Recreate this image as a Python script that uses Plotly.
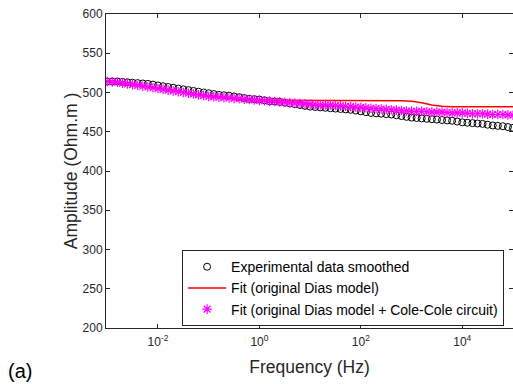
import numpy as np
import plotly.graph_objects as go

# log10 frequency grid (0.2 decade steps) for the red fit line
log_freq = [-3.0, -2.8, -2.6, -2.4, -2.2, -2.0, -1.8, -1.6, -1.4, -1.2, -1.0,
            -0.8, -0.6, -0.4, -0.2, 0.0, 0.2, 0.4, 0.6, 0.8, 1.0,
            1.2, 1.4, 1.6, 1.8, 2.0, 2.2, 2.4, 2.6, 2.8, 3.0,
            3.2, 3.4, 3.6, 3.8, 4.0, 4.2, 4.4, 4.6, 4.8, 5.0]
freq = [10 ** v for v in log_freq]

fit_dias = [514, 513, 511, 509, 507, 505, 503, 501, 499, 497, 495,
            494, 493, 492, 491, 490, 490, 490, 490, 490, 490,
            490, 490, 490, 490, 490, 490, 490, 490, 489.5, 489,
            487, 484, 482.5, 482, 482, 482, 482, 482, 482, 482]

# marker sampling (every 0.1 decade)
log_freq_dense = [-3.0, -2.9, -2.8, -2.7, -2.6, -2.5, -2.4, -2.3, -2.2, -2.1, -2.0,
                  -1.9, -1.8, -1.7, -1.6, -1.5, -1.4, -1.3, -1.2, -1.1, -1.0,
                  -0.9, -0.8, -0.7, -0.6, -0.5, -0.4, -0.3, -0.2, -0.1, 0.0,
                  0.1, 0.2, 0.3, 0.4, 0.5, 0.6, 0.7, 0.8, 0.9, 1.0,
                  1.1, 1.2, 1.3, 1.4, 1.5, 1.6, 1.7, 1.8, 1.9, 2.0,
                  2.1, 2.2, 2.3, 2.4, 2.5, 2.6, 2.7, 2.8, 2.9, 3.0,
                  3.1, 3.2, 3.3, 3.4, 3.5, 3.6, 3.7, 3.8, 3.9, 4.0,
                  4.1, 4.2, 4.3, 4.4, 4.5, 4.6, 4.7, 4.8, 4.9, 5.0]
freq_dense = [10 ** v for v in log_freq_dense]

experimental = [514, 514, 514, 513.5, 513, 512.5, 512, 511.5, 511, 510, 509,
                508, 507, 506, 505, 504, 503, 502, 501, 500, 499,
                498, 497, 496.5, 496, 495, 494, 493, 492, 491.5, 491,
                490, 489, 488.5, 488, 487, 486, 485, 484, 483, 482,
                481.5, 481, 480.5, 480, 479.5, 479, 478.5, 478, 477, 476,
                475, 474, 473.5, 473, 472.5, 472, 471, 470, 469, 468,
                467.5, 467, 466.5, 466, 465.5, 465, 464.5, 464, 463, 462,
                461.5, 461, 460.5, 460, 459, 458, 457.5, 457, 456, 455]

fit_cole = [514, 513.5, 513, 512, 511, 510, 509, 508, 507, 506, 505,
            504, 503, 502, 501, 500, 499, 498, 497, 496, 495,
            494.5, 494, 493.5, 493, 492.5, 492, 491.5, 491, 490.5, 490,
            489.5, 489, 488.5, 488, 487.5, 487, 486.5, 486, 485.5, 485,
            484.5, 484, 484, 484, 483.5, 483, 482.5, 482, 481.5, 481,
            480.5, 480, 479.5, 479, 478.5, 478, 477.5, 477, 476.5, 476,
            476, 476, 475.5, 475, 475, 475, 474.5, 474, 474, 474,
            473.5, 473, 473, 473, 472.5, 472, 472, 472, 471.5, 471]

tick_vals = [1e-2, 1e0, 1e2, 1e4]
tick_text = ["10<sup>-2</sup>", "10<sup>0</sup>", "10<sup>2</sup>", "10<sup>4</sup>"]
y_ticks = [200, 250, 300, 350, 400, 450, 500, 550, 600]

axis_color = "#262626"
font_family = "Liberation Sans, Arial, sans-serif"

fig = go.Figure()

fig.add_trace(go.Scatter(
    x=freq_dense, y=experimental, mode="markers",
    name="Experimental data smoothed",
    marker=dict(symbol="circle-open", size=7, color="black", line=dict(width=1)),
))
fig.add_trace(go.Scatter(
    x=freq, y=fit_dias, mode="lines",
    name="Fit (original Dias model)",
    line=dict(color="red", width=1.5),
))
fig.add_trace(go.Scatter(
    x=freq_dense, y=fit_cole, mode="markers",
    name="Fit (original Dias model + Cole-Cole circuit)",
    marker=dict(symbol="asterisk-open", size=8, color="#ff00ff",
                line=dict(width=1.2, color="#ff00ff")),
))

fig.update_layout(
    width=513, height=384,
    margin=dict(l=106, r=0, t=14, b=56),
    paper_bgcolor="white", plot_bgcolor="white",
    font=dict(family=font_family, color=axis_color, size=12),
    showlegend=True,
    legend=dict(
        x=0.187, y=0.248, xanchor="left", yanchor="top",
        bgcolor="white", bordercolor=axis_color, borderwidth=1,
        font=dict(size=14, color="black"),
        itemwidth=38, tracegroupgap=0,
    ),
    annotations=[dict(
        text="(a)", x=0, y=0, xref="paper", yref="paper",
        xanchor="left", yanchor="middle", xshift=-100, yshift=-43,
        showarrow=False, font=dict(size=20, color="black"),
    )],
)

fig.update_xaxes(
    type="log", range=[-3.025, 5.0],
    tickvals=tick_vals, ticktext=tick_text,
    ticks="inside", ticklen=4, tickcolor=axis_color,
    showline=True, linecolor=axis_color, linewidth=1, mirror="ticks",
    showgrid=False, zeroline=False,
    title=dict(text="Frequency (Hz)", font=dict(size=17.5), standoff=12),
    tickfont=dict(size=12), ticklabelstandoff=3,
)
fig.update_yaxes(
    range=[200, 600], tickvals=y_ticks,
    ticks="inside", ticklen=4, tickcolor=axis_color,
    showline=True, linecolor=axis_color, linewidth=1, mirror="ticks",
    showgrid=False, zeroline=False,
    title=dict(text="Amplitude (Ohm.m )", font=dict(size=17.5), standoff=0),
    tickfont=dict(size=12),
)

fig.write_html("out.html")
